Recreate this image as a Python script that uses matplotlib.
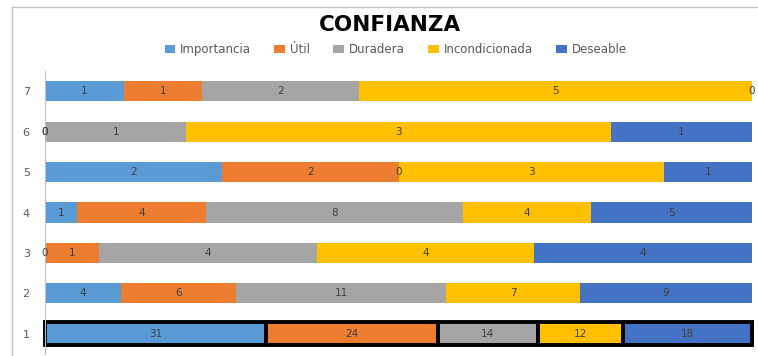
import numpy as np
import matplotlib.pyplot as plt
from matplotlib.lines import Line2D
from matplotlib.patches import Patch

rows = ["1", "2", "3", "4", "5", "6", "7"]
series = ["Importancia", "Útil", "Duradera", "Incondicionada", "Deseable"]
importancia = [31, 4, 0, 1, 2, 0, 1]
util = [24, 6, 1, 4, 2, 0, 1]
duradera = [14, 11, 4, 8, 0, 1, 2]
incondicionada = [12, 7, 4, 4, 3, 3, 5]
deseable = [18, 9, 4, 5, 1, 1, 0]

colors = ["#5B9BD5", "#ED7D31", "#A5A5A5", "#FFC000", "#4472C4"]

values = np.array([importancia, util, duradera, incondicionada, deseable], dtype=float)
totals = values.sum(axis=0)
shares = values / totals

fig = plt.figure(figsize=(7.58, 3.56), dpi=100)
ax = fig.add_axes([45 / 758, 2 / 356, 707 / 758, 283 / 356])

y = np.arange(1, len(rows) + 1)
heights = [0.56 if r == 0 else 0.5 for r in range(len(rows))]
left = np.zeros(len(rows))
for i, name in enumerate(series):
    # the first row gets a heavy black outline
    edge = ["black" if r == 0 else "none" for r in range(len(rows))]
    lw = [2.8 if r == 0 else 0 for r in range(len(rows))]
    ax.barh(y, shares[i], left=left, height=heights, color=colors[i],
            edgecolor=edge, linewidth=lw, zorder=2, clip_on=False)
    for r in range(len(rows)):
        ax.text(left[r] + shares[i][r] / 2, y[r], f"{int(values[i][r])}",
                ha="center", va="center", fontsize=7.5, color="#404040", zorder=3)
    left += shares[i]

ax.set_xlim(0, 1)
ax.set_ylim(0.5, 7.5)
ax.set_yticks(y)
ax.set_yticklabels(rows, fontsize=8, color="#595959")
ax.tick_params(axis="y", length=0, pad=11)
ax.set_xticks([])
for side in ["top", "right", "bottom"]:
    ax.spines[side].set_visible(False)
ax.spines["left"].set_color("#BFBFBF")

fig.text(0.515, 0.93, "CONFIANZA", ha="center", va="center",
         fontsize=15.5, fontweight="bold", color="black")
handles = [Patch(facecolor=c, edgecolor="none") for c in colors]
fig.legend(handles, series, loc="center", bbox_to_anchor=(0.522, 0.86), ncol=5,
           frameon=False, fontsize=8.5, handlelength=0.9, handleheight=0.6,
           columnspacing=2.0, handletextpad=0.4, labelcolor="#595959")

# chart area border
fig.add_artist(Line2D([12 / 758, 1], [1 - 7 / 356, 1 - 7 / 356], color="#BFBFBF", lw=1))
fig.add_artist(Line2D([12 / 758, 12 / 758], [0, 1 - 7 / 356], color="#BFBFBF", lw=1))

fig.savefig("out.png", dpi=100)
